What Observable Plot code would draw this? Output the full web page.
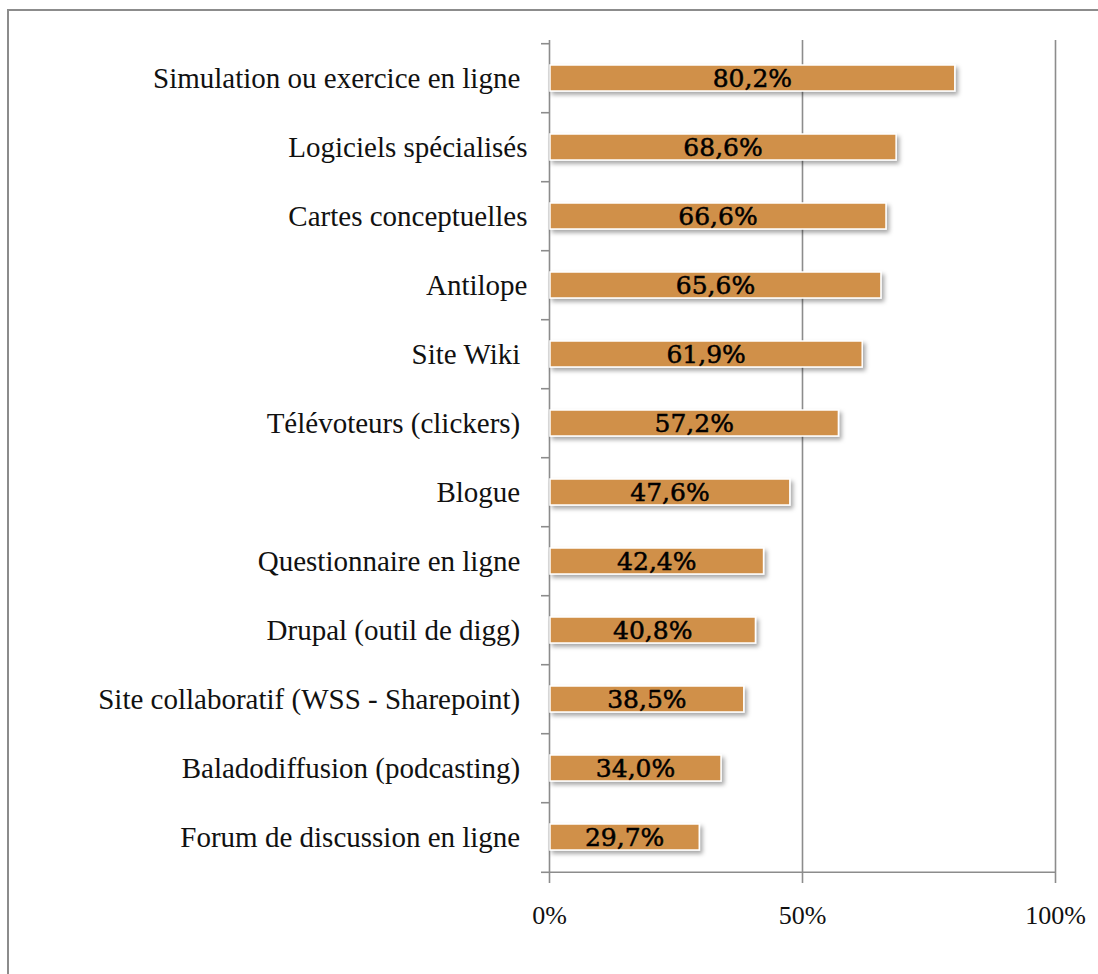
<!DOCTYPE html>
<html><head><meta charset="utf-8">
<script src="https://cdn.jsdelivr.net/npm/d3@7"></script>
<script src="https://cdn.jsdelivr.net/npm/@observablehq/plot@0.6"></script>
<style>
html,body{margin:0;padding:0;background:#fff;}
#wrap{position:relative;width:1098px;height:974px;overflow:hidden;}
#border{position:absolute;left:7px;top:9px;width:1300px;height:1300px;border:2px solid #8c8c8c;box-sizing:border-box;}
#chart{position:absolute;left:0;top:0;}
</style></head><body>
<div id="wrap"><div id="border"></div><div id="chart"></div></div>
<script>
const categories = [
  "Simulation ou exercice en ligne ",
  "Logiciels spécialisés",
  "Cartes conceptuelles",
  "Antilope",
  "Site Wiki ",
  "Télévoteurs (clickers) ",
  "Blogue ",
  "Questionnaire en ligne ",
  "Drupal (outil de digg) ",
  "Site collaboratif (WSS - Sharepoint) ",
  "Baladodiffusion (podcasting) ",
  "Forum de discussion en ligne "
];
const values = [80.2, 68.6, 66.6, 65.6, 61.9, 57.2, 47.6, 42.4, 40.8, 38.5, 34.0, 29.7];
const xTicks = [0, 50, 100];
const xTickLabels = ["0%", "50%", "100%"];

const data = categories.map((c, i) => ({category: c, value: values[i]}));
const fmt = v => v.toFixed(1).replace(".", ",") + "%";

const W = 1098, H = 974;
const mL = 549, mR = 43, mT = 40, mB = 99;
const step = (H - mT - mB) / categories.length;
const gray = "#8c8c8c";
const labelFont = "'Liberation Serif', 'Times New Roman', serif";
const valueFont = "'DejaVu Serif', serif";

const svg = Plot.plot({
  width: W,
  height: H,
  marginLeft: mL,
  marginRight: mR,
  marginTop: mT,
  marginBottom: mB,
  style: {fontFamily: labelFont, fontSize: "26px", background: "transparent", color: "#111"},
  x: {domain: [0, 100], axis: null, label: null},
  y: {domain: categories, paddingInner: 0.63, paddingOuter: 0.315, axis: null, label: null},
  marks: [
    Plot.ruleX(xTicks, {stroke: gray, strokeWidth: 1.6}),
    Plot.axisX({ticks: xTicks, tickSize: 8, tickPadding: 22, stroke: gray, strokeWidth: 1.6, label: null,
      tickFormat: d => xTickLabels[xTicks.indexOf(d)], fontSize: 26, fill: "#111"}),
    Plot.axisY({tickSize: 8, dy: -step / 2, stroke: gray, strokeWidth: 1.6, label: null, tickFormat: () => ""}),
    Plot.axisY({ticks: [categories[categories.length - 1]], tickSize: 8, dy: step / 2, stroke: gray, strokeWidth: 1.6, label: null, tickFormat: () => ""}),
    Plot.ruleY([categories[categories.length - 1]], {x1: 0, x2: 100, dy: step / 2, stroke: gray, strokeWidth: 1.6}),
    Plot.barX(data, {x: "value", y: "category", fill: "#d0904a", stroke: "#fff", strokeWidth: 1.5, insetLeft: 1}),
    Plot.text(data, {x: d => d.value / 2, y: "category", text: d => fmt(d.value),
      fontFamily: valueFont, fontSize: 25, fill: "#000", stroke: "#000", strokeWidth: 0.5}),
    Plot.text(data, {x: 0, y: "category", text: d => d.category.replace(/ $/, "\u00a0"),
      textAnchor: "end", dx: -22, fontSize: 29, fill: "#111", fontFamily: labelFont})
  ]
});

const defs = d3.select(svg).insert("defs", ":first-child");
defs.append("filter").attr("id", "shadow").attr("x", "-10%").attr("y", "-50%").attr("width", "130%").attr("height", "250%")
  .append("feDropShadow").attr("dx", 2.5).attr("dy", 3).attr("stdDeviation", 2)
  .attr("flood-color", "#000").attr("flood-opacity", 0.35);
d3.select(svg).selectAll("g[aria-label='bar']").attr("filter", "url(#shadow)");

document.getElementById("chart").appendChild(svg);
</script>
</body></html>
